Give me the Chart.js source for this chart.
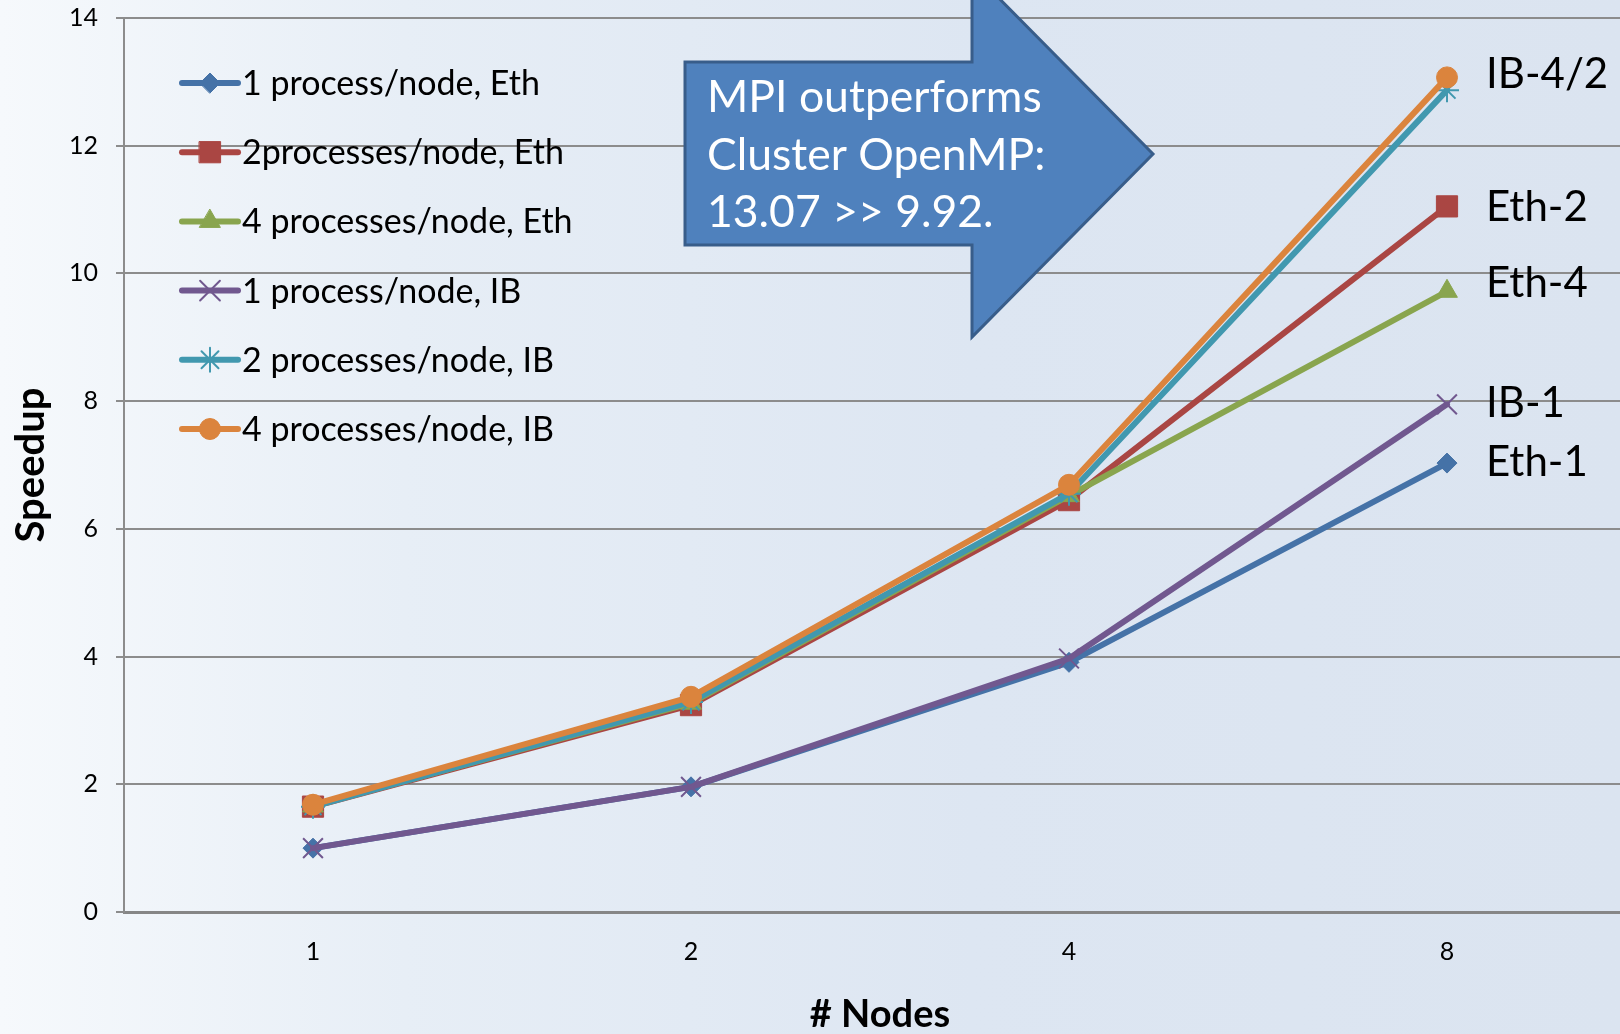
<!DOCTYPE html>
<html>
<head>
<meta charset="utf-8">
<script src="https://cdn.jsdelivr.net/npm/chart.js@4.4.1/dist/chart.umd.min.js"></script>
<style>
  html, body { margin: 0; padding: 0; overflow: hidden; width: 1620px; height: 1034px; background: #dbe5f1; }
  #wrap { position: absolute; left: 0; top: 0; width: 1640px; height: 1034px; }
  canvas { display: block; }
</style>
</head>
<body>
<div id="wrap"><canvas id="speedup" width="1640" height="1034"></canvas></div>
<script>
// Node counts on the x axis
const nodes = ['1', '2', '4', '8'];

// Speedup per configuration
const eth1 = [1.00, 1.96, 3.91, 7.03];
const eth2 = [1.65, 3.24, 6.45, 11.05];
const eth4 = [1.66, 3.27, 6.52, 9.72];
const ib1  = [1.00, 1.96, 3.97, 7.95];
const ib2  = [1.65, 3.29, 6.55, 12.87];
const ib4  = [1.68, 3.37, 6.69, 13.07];

const seriesNames = [
  '1 process/node, Eth',
  '2processes/node, Eth',
  '4 processes/node, Eth',
  '1 process/node, IB',
  '2 processes/node, IB',
  '4 processes/node, IB'
];
const seriesValues = [eth1, eth2, eth4, ib1, ib2, ib4];

// Y axis ticks
const yMin = 0, yMax = 14, yStep = 2;

// Labels at the right end of the lines
const endLabelText = ['Eth-1', 'Eth-2', 'Eth-4', 'IB-1', '', 'IB-4/2'];

// Callout text
const calloutLines = ['MPI outperforms', 'Cluster OpenMP:', '13.07 >> 9.92.'];

// ---- styling ----
const colors = ['#4572a7', '#aa4643', '#89a54e', '#71588f', '#4198af', '#db843d'];
const markerStyles = ['rectRot', 'rect', 'triangle', 'crossRot', 'star', 'circle'];
const markerRadii = [10, 15, 12, 14, 12, 10.5];
const markerBorder = [1, 1, 1, 2, 2, 1];
const endLabelDy = [13, 15, 6, 13, 0, 11];
const FONT = 'Lato, "Open Sans", "DejaVu Sans", sans-serif';

const datasets = seriesValues.map((vals, i) => ({
  label: seriesNames[i],
  data: vals,
  borderColor: colors[i],
  backgroundColor: colors[i],
  borderWidth: 6,
  borderCapStyle: 'round',
  borderJoinStyle: 'round',
  tension: 0,
  pointStyle: markerStyles[i],
  pointRadius: markerRadii[i],
  pointHoverRadius: markerRadii[i],
  pointBackgroundColor: colors[i],
  pointBorderColor: colors[i],
  pointBorderWidth: markerBorder[i],
  order: seriesValues.length - i
}));

const backgroundPlugin = {
  id: 'panelBackground',
  beforeDraw(chart) {
    const { ctx, width, height } = chart;
    const g = ctx.createLinearGradient(0, 0, 1620, 0);
    g.addColorStop(0, '#f6f9fc');
    g.addColorStop(0.25, '#e7eef6');
    g.addColorStop(0.6, '#dde6f2');
    g.addColorStop(1, '#dbe4f0');
    ctx.save();
    ctx.fillStyle = g;
    ctx.fillRect(0, 0, width, height);
    ctx.restore();
  }
};

function drawMarker(ctx, i, x, y) {
  ctx.save();
  ctx.fillStyle = colors[i];
  ctx.strokeStyle = colors[i];
  ctx.lineWidth = markerBorder[i];
  Chart.helpers.drawPoint(ctx, {
    pointStyle: markerStyles[i],
    radius: markerRadii[i],
    rotation: 0,
    borderWidth: markerBorder[i]
  }, x, y);
  ctx.restore();
}

const legendPlugin = {
  id: 'seriesLegend',
  afterDraw(chart) {
    const { ctx } = chart;
    const x0 = 182, x1 = 238, top = 83, rowH = 69.2;
    ctx.save();
    chart.data.datasets.forEach((ds, i) => {
      const y = top + i * rowH;
      ctx.strokeStyle = colors[i];
      ctx.lineWidth = 6;
      ctx.lineCap = 'round';
      ctx.beginPath();
      ctx.moveTo(x0, y);
      ctx.lineTo(x1, y);
      ctx.stroke();
      drawMarker(ctx, i, (x0 + x1) / 2, y);
      ctx.fillStyle = '#000';
      ctx.font = '34px ' + FONT;
      ctx.textAlign = 'left';
      ctx.textBaseline = 'alphabetic';
      ctx.fillText(ds.label, 242, y + 12);
    });
    ctx.restore();
  }
};

const endLabelPlugin = {
  id: 'endLabels',
  afterDatasetsDraw(chart) {
    const { ctx } = chart;
    ctx.save();
    ctx.fillStyle = '#000';
    ctx.font = '42px ' + FONT;
    ctx.textAlign = 'left';
    ctx.textBaseline = 'alphabetic';
    chart.data.datasets.forEach((ds, i) => {
      if (!endLabelText[i]) return;
      const meta = chart.getDatasetMeta(i);
      const pt = meta.data[meta.data.length - 1];
      ctx.fillText(endLabelText[i], pt.x + 39, pt.y + endLabelDy[i]);
    });
    ctx.restore();
  }
};

const calloutPlugin = {
  id: 'callout',
  afterDraw(chart) {
    const { ctx } = chart;
    ctx.save();
    ctx.beginPath();
    ctx.moveTo(685, 62);
    ctx.lineTo(972, 62);
    ctx.lineTo(972, -29);
    ctx.lineTo(1153, 154);
    ctx.lineTo(972, 337);
    ctx.lineTo(972, 245);
    ctx.lineTo(685, 245);
    ctx.closePath();
    ctx.fillStyle = '#4f81bd';
    ctx.fill();
    ctx.lineWidth = 3;
    ctx.strokeStyle = '#385d8a';
    ctx.stroke();
    ctx.fillStyle = '#ffffff';
    ctx.font = '44.5px ' + FONT;
    ctx.textAlign = 'left';
    ctx.textBaseline = 'alphabetic';
    calloutLines.forEach((t, k) => ctx.fillText(t, 707, 112 + k * 57.5));
    ctx.restore();
  }
};

new Chart(document.getElementById('speedup'), {
  type: 'line',
  data: { labels: nodes, datasets },
  plugins: [backgroundPlugin, endLabelPlugin, calloutPlugin, legendPlugin],
  options: {
    responsive: false,
    animation: false,
    events: [],
    layout: { autoPadding: false, padding: { top: 18, right: 4, bottom: 0, left: 0 } },
    plugins: { legend: { display: false }, tooltip: { enabled: false } },
    scales: {
      x: {
        type: 'category',
        offset: true,
        afterFit(scale) { scale.height = 122; },
        grid: { display: false, drawTicks: false },
        border: { display: true, color: '#868686', width: 3 },
        ticks: { color: '#000', padding: 25, font: { family: FONT, size: 25 } },
        title: {
          display: true,
          text: '# Nodes',
          color: '#000',
          font: { family: FONT, size: 38, weight: 'bold', lineHeight: 1 },
          padding: { top: 0, bottom: 0 }
        }
      },
      y: {
        min: yMin,
        max: yMax,
        afterFit(scale) {
          scale.width = 124;
          // only half a label height is needed above and below the axis
          scale.paddingTop = 15;
          scale.paddingBottom = 15;
        },
        grid: { color: '#8c8c8c', lineWidth: 2, drawTicks: true, tickLength: 8, tickColor: '#8c8c8c', tickWidth: 2 },
        border: { display: true, color: '#8c8c8c', width: 2 },
        ticks: { stepSize: yStep, color: '#000', padding: 18, font: { family: FONT, size: 25 } },
        title: {
          display: true,
          text: 'Speedup',
          color: '#000',
          font: { family: FONT, size: 40, weight: 'bold', lineHeight: 1 },
          padding: { top: 11, bottom: 0 }
        }
      }
    }
  }
});
</script>
</body>
</html>
